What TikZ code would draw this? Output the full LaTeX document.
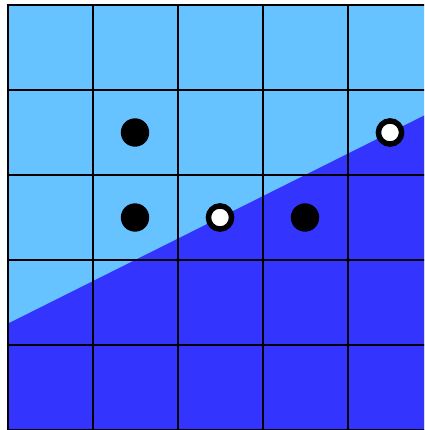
\documentclass[tikz,border=0pt]{standalone}
\definecolor{lightblue}{HTML}{66C3FF}
\definecolor{darkblue}{HTML}{3434FF}
\tikzset{
  gridline/.style={black, line width=2pt},
  blackdot/.style={fill=black},
  whitedot/.style={fill=white, draw=black, line width=5.5pt}
}
\begin{document}
\begin{tikzpicture}[x=1pt,y=-1pt]
\useasboundingbox (0,0) rectangle (424,430);
\clip (0,0) rectangle (424,430);
\fill[lightblue] (7.5,5) rectangle (432.5,435);
\fill[darkblue] (7.5,323.75) -- (432.5,111.25) -- (432.5,435) -- (7.5,435) -- cycle;
\foreach \i in {0,...,5} {
  \draw[gridline] (7.5+85*\i,5) -- (7.5+85*\i,435);
  \draw[gridline] (6.5,5+85*\i) -- (432.5,5+85*\i);
}
\fill[blackdot] (135,132.5) circle (14.2);
\fill[blackdot] (135,217.5) circle (14.2);
\fill[blackdot] (305,217.5) circle (14.2);
\draw[whitedot] (220,217.5) circle (11.6);
\draw[whitedot] (390,132.5) circle (11.6);
\end{tikzpicture}
\end{document}
